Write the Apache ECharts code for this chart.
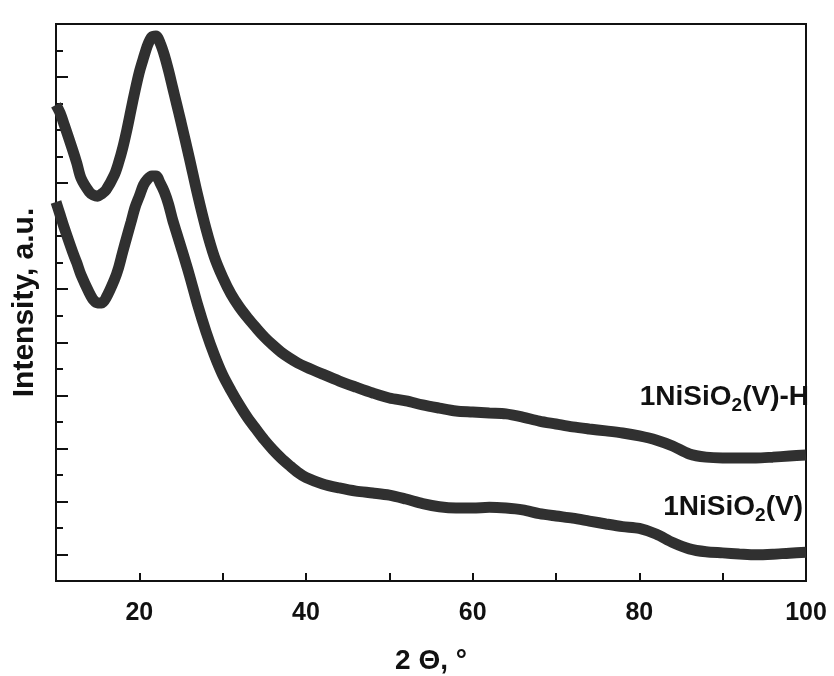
<!DOCTYPE html>
<html>
<head>
<meta charset="utf-8">
<script src="https://cdn.jsdelivr.net/npm/echarts@6/dist/echarts.min.js"></script>
<style>
html,body{margin:0;padding:0;background:#fff;}
#chart{width:834px;height:676px;}
</style>
</head>
<body>
<div id="chart"></div>
<script>
// 2θ positions (degrees)
const theta = [10,10.5,11,12,12.5,13,14,14.5,15,15.5,16,17,17.5,18,18.5,19,19.5,20,20.5,21,21.5,22,22.5,23,23.5,24,24.5,25,26,27,28,29,30,31,32,33,34,35,36,37,38,39,40,42,44,46,48,50,52,54,56,58,60,62,64,66,68,70,72,74,76,78,80,82,84,86,88,90,92,94,96,98,100];
// 1NiSiO2(V)-H  (arbitrary units)
const upperVals = [1795,1764,1719,1625,1575,1519,1467,1455,1451,1460,1474,1531,1576,1632,1700,1776,1851,1919,1972,2021,2051,2055,2028,1983,1925,1860,1795,1730,1595,1455,1328,1222,1145,1082,1033,992,955,920,890,863,841,822,807,780,754,731,709,690,679,664,652,641,637,633,630,618,603,592,581,573,566,558,547,532,509,479,467,464,464,464,467,471,475];
// 1NiSiO2(V)  (arbitrary units)
const lowerVals = [1429,1380,1331,1240,1199,1154,1086,1059,1048,1048,1067,1135,1180,1240,1297,1353,1410,1451,1493,1516,1527,1527,1500,1467,1421,1361,1310,1259,1154,1041,940,852,777,718,664,615,573,532,496,464,436,410,390,366,351,339,332,324,309,292,280,275,275,278,275,268,254,245,237,226,215,205,198,177,145,121,110,106,102,99,101,105,108];
const seriesNames = ['1NiSiO2(V)-H','1NiSiO2(V)'];
const xTickLabels = [20,40,60,80,100];
const yMajorTicks = [100,300,500,700,900,1100,1300,1500,1700,1900];
const yMinorTicks = [200,400,600,800,1000,1200,1400,1600,1800,2000];

const font = '"Liberation Sans", Arial, Helvetica, sans-serif';
const chart = echarts.init(document.getElementById('chart'));

function pairs(vals){ return theta.map((t,i)=>[t, vals[i]]); }

chart.setOption({
  animation:false,
  backgroundColor:'#fff',
  grid:{left:56,right:28,top:24,bottom:95,containLabel:false,outerBoundsMode:'none',
    show:true,borderColor:'#111',borderWidth:2,backgroundColor:'transparent'},
  xAxis:{
    type:'value',min:10,max:100,interval:10,
    name:'2 Θ, °',nameLocation:'middle',nameGap:66,
    nameTextStyle:{fontFamily:font,fontWeight:'bold',fontSize:28,color:'#111'},
    axisLine:{lineStyle:{color:'#111',width:2}},
    axisTick:{inside:true,length:8,lineStyle:{color:'#111',width:2}},
    axisLabel:{margin:20,fontFamily:font,fontWeight:'bold',fontSize:25,color:'#111',
      formatter:v=> xTickLabels.indexOf(v)>=0 ? String(v) : ''},
    splitLine:{show:false}
  },
  yAxis:[{
    type:'value',min:0,max:2100,
    name:'Intensity, a.u.',nameLocation:'middle',nameGap:16,
    nameTextStyle:{fontFamily:font,fontWeight:'bold',fontSize:30,color:'#111'},
    axisLine:{lineStyle:{color:'#111',width:2}},
    axisTick:{inside:true,length:12,customValues:yMajorTicks,lineStyle:{color:'#111',width:2}},
    axisLabel:{show:false},
    splitLine:{show:false}
  },{
    type:'value',min:0,max:2100,position:'left',
    axisLine:{show:false},
    axisTick:{show:true,inside:true,length:7,customValues:yMinorTicks,lineStyle:{color:'#111',width:2}},
    axisLabel:{show:false},
    splitLine:{show:false}
  }],
  graphic:[
    {type:'text',right:25,top:380,z:100,
      style:{text:'{a|1NiSiO}{s|2}{a|(V)-H}',
        rich:{a:{fontFamily:font,fontWeight:'bold',fontSize:28,fill:'#111',lineHeight:32},
              s:{fontFamily:font,fontWeight:'bold',fontSize:19,fill:'#111',padding:[16,0,0,0],lineHeight:32}}}},
    {type:'text',right:31,top:490,z:100,
      style:{text:'{a|1NiSiO}{s|2}{a|(V)}',
        rich:{a:{fontFamily:font,fontWeight:'bold',fontSize:28,fill:'#111',lineHeight:32},
              s:{fontFamily:font,fontWeight:'bold',fontSize:19,fill:'#111',padding:[16,0,0,0],lineHeight:32}}}}
  ],
  series:[
    {name:seriesNames[0],type:'line',data:pairs(upperVals),showSymbol:false,smooth:0.3,
      lineStyle:{color:'#303030',width:11},clip:true},
    {name:seriesNames[1],type:'line',data:pairs(lowerVals),showSymbol:false,smooth:0.3,
      lineStyle:{color:'#303030',width:11},clip:true}
  ]
});
</script>
</body>
</html>
